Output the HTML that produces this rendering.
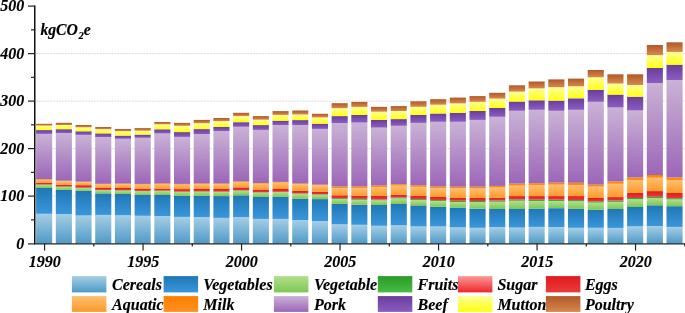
<!DOCTYPE html><html><head><meta charset="utf-8"><style>html,body{margin:0;padding:0;background:#fff;}svg{display:block;}text{font-family:"Liberation Serif",serif;font-weight:bold;font-style:italic;stroke:#000;stroke-width:0.15px;}</style></head><body>
<svg style="will-change:transform" width="685" height="313" viewBox="0 0 685 313">
<defs>
<linearGradient id="gcer" x1="0" y1="0" x2="0" y2="1"><stop offset="0" stop-color="#a6cee3"/><stop offset="1" stop-color="#4e9ac8"/></linearGradient>
<linearGradient id="gveg" x1="0" y1="0" x2="0" y2="1"><stop offset="0" stop-color="#1f78b4"/><stop offset="1" stop-color="#3a96dc"/></linearGradient>
<linearGradient id="gvo" x1="0" y1="0" x2="0" y2="1"><stop offset="0" stop-color="#b2df8a"/><stop offset="1" stop-color="#7cc855"/></linearGradient>
<linearGradient id="gfr" x1="0" y1="0" x2="0" y2="1"><stop offset="0" stop-color="#2c9a28"/><stop offset="1" stop-color="#46bd44"/></linearGradient>
<linearGradient id="gsu" x1="0" y1="0" x2="0" y2="1"><stop offset="0" stop-color="#fb9a99"/><stop offset="1" stop-color="#f0262a"/></linearGradient>
<linearGradient id="gegg" x1="0" y1="0" x2="0" y2="1"><stop offset="0" stop-color="#e31a1c"/><stop offset="1" stop-color="#ea3a3c"/></linearGradient>
<linearGradient id="gaq" x1="0" y1="0" x2="0" y2="1"><stop offset="0" stop-color="#fdbf6f"/><stop offset="1" stop-color="#fd9a2a"/></linearGradient>
<linearGradient id="gmilk" x1="0" y1="0" x2="0" y2="1"><stop offset="0" stop-color="#ff7f00"/><stop offset="1" stop-color="#ff9020"/></linearGradient>
<linearGradient id="gpork" x1="0" y1="0" x2="0" y2="1"><stop offset="0" stop-color="#cab2d6"/><stop offset="1" stop-color="#9c66b8"/></linearGradient>
<linearGradient id="gbeef" x1="0" y1="0" x2="0" y2="1"><stop offset="0" stop-color="#6a3d9a"/><stop offset="1" stop-color="#8c5dc2"/></linearGradient>
<linearGradient id="gmut" x1="0" y1="0" x2="0" y2="1"><stop offset="0" stop-color="#ffff99"/><stop offset="1" stop-color="#ffff10"/></linearGradient>
<linearGradient id="gpou" x1="0" y1="0" x2="0" y2="1"><stop offset="0" stop-color="#b15928"/><stop offset="1" stop-color="#d8864e"/></linearGradient>
</defs>
<rect width="685" height="313" fill="#fff"/>
<line x1="36" y1="196.10" x2="685" y2="196.10" stroke="#d4d4d4" stroke-width="0.9" stroke-dasharray="1.8,1.1"/>
<line x1="36" y1="148.60" x2="685" y2="148.60" stroke="#d4d4d4" stroke-width="0.9" stroke-dasharray="1.8,1.1"/>
<line x1="36" y1="101.10" x2="685" y2="101.10" stroke="#d4d4d4" stroke-width="0.9" stroke-dasharray="1.8,1.1"/>
<line x1="36" y1="53.60" x2="685" y2="53.60" stroke="#d4d4d4" stroke-width="0.9" stroke-dasharray="1.8,1.1"/>
<rect x="36.10" y="213.80" width="16.1" height="29.80" fill="url(#gcer)"/>
<rect x="36.10" y="188.00" width="16.1" height="25.80" fill="url(#gveg)"/>
<rect x="36.10" y="184.85" width="16.1" height="3.15" fill="url(#gvo)"/>
<rect x="36.10" y="184.40" width="16.1" height="0.45" fill="url(#gfr)"/>
<rect x="36.10" y="182.90" width="16.1" height="1.50" fill="url(#gegg)"/>
<rect x="36.10" y="179.80" width="16.1" height="3.10" fill="url(#gaq)"/>
<rect x="36.10" y="179.10" width="16.1" height="0.70" fill="url(#gmilk)"/>
<rect x="36.10" y="133.90" width="16.1" height="45.20" fill="url(#gpork)"/>
<rect x="36.10" y="130.10" width="16.1" height="3.80" fill="url(#gbeef)"/>
<rect x="36.10" y="125.60" width="16.1" height="4.50" fill="url(#gmut)"/>
<rect x="36.10" y="123.80" width="16.1" height="1.80" fill="url(#gpou)"/>
<rect x="55.80" y="214.00" width="16.1" height="29.60" fill="url(#gcer)"/>
<rect x="55.80" y="189.90" width="16.1" height="24.10" fill="url(#gveg)"/>
<rect x="55.80" y="186.95" width="16.1" height="2.95" fill="url(#gvo)"/>
<rect x="55.80" y="186.50" width="16.1" height="0.45" fill="url(#gfr)"/>
<rect x="55.80" y="184.80" width="16.1" height="1.70" fill="url(#gegg)"/>
<rect x="55.80" y="181.40" width="16.1" height="3.40" fill="url(#gaq)"/>
<rect x="55.80" y="180.70" width="16.1" height="0.70" fill="url(#gmilk)"/>
<rect x="55.80" y="133.00" width="16.1" height="47.70" fill="url(#gpork)"/>
<rect x="55.80" y="129.20" width="16.1" height="3.80" fill="url(#gbeef)"/>
<rect x="55.80" y="125.00" width="16.1" height="4.20" fill="url(#gmut)"/>
<rect x="55.80" y="122.80" width="16.1" height="2.20" fill="url(#gpou)"/>
<rect x="75.50" y="215.50" width="16.1" height="28.10" fill="url(#gcer)"/>
<rect x="75.50" y="190.90" width="16.1" height="24.60" fill="url(#gveg)"/>
<rect x="75.50" y="188.15" width="16.1" height="2.75" fill="url(#gvo)"/>
<rect x="75.50" y="187.70" width="16.1" height="0.45" fill="url(#gfr)"/>
<rect x="75.50" y="185.20" width="16.1" height="2.50" fill="url(#gegg)"/>
<rect x="75.50" y="182.30" width="16.1" height="2.90" fill="url(#gaq)"/>
<rect x="75.50" y="181.60" width="16.1" height="0.70" fill="url(#gmilk)"/>
<rect x="75.50" y="134.90" width="16.1" height="46.70" fill="url(#gpork)"/>
<rect x="75.50" y="131.30" width="16.1" height="3.60" fill="url(#gbeef)"/>
<rect x="75.50" y="127.30" width="16.1" height="4.00" fill="url(#gmut)"/>
<rect x="75.50" y="125.00" width="16.1" height="2.30" fill="url(#gpou)"/>
<rect x="95.20" y="214.90" width="16.1" height="28.70" fill="url(#gcer)"/>
<rect x="95.20" y="193.40" width="16.1" height="21.50" fill="url(#gveg)"/>
<rect x="95.20" y="190.35" width="16.1" height="3.05" fill="url(#gvo)"/>
<rect x="95.20" y="189.90" width="16.1" height="0.45" fill="url(#gfr)"/>
<rect x="95.20" y="188.00" width="16.1" height="1.90" fill="url(#gegg)"/>
<rect x="95.20" y="184.50" width="16.1" height="3.50" fill="url(#gaq)"/>
<rect x="95.20" y="183.80" width="16.1" height="0.70" fill="url(#gmilk)"/>
<rect x="95.20" y="137.10" width="16.1" height="46.70" fill="url(#gpork)"/>
<rect x="95.20" y="133.40" width="16.1" height="3.70" fill="url(#gbeef)"/>
<rect x="95.20" y="129.20" width="16.1" height="4.20" fill="url(#gmut)"/>
<rect x="95.20" y="127.00" width="16.1" height="2.20" fill="url(#gpou)"/>
<rect x="114.90" y="215.30" width="16.1" height="28.30" fill="url(#gcer)"/>
<rect x="114.90" y="194.00" width="16.1" height="21.30" fill="url(#gveg)"/>
<rect x="114.90" y="190.65" width="16.1" height="3.35" fill="url(#gvo)"/>
<rect x="114.90" y="190.20" width="16.1" height="0.45" fill="url(#gfr)"/>
<rect x="114.90" y="188.00" width="16.1" height="2.20" fill="url(#gegg)"/>
<rect x="114.90" y="184.20" width="16.1" height="3.80" fill="url(#gaq)"/>
<rect x="114.90" y="183.50" width="16.1" height="0.70" fill="url(#gmilk)"/>
<rect x="114.90" y="138.80" width="16.1" height="44.70" fill="url(#gpork)"/>
<rect x="114.90" y="135.60" width="16.1" height="3.20" fill="url(#gbeef)"/>
<rect x="114.90" y="131.20" width="16.1" height="4.40" fill="url(#gmut)"/>
<rect x="114.90" y="129.00" width="16.1" height="2.20" fill="url(#gpou)"/>
<rect x="134.60" y="215.80" width="16.1" height="27.80" fill="url(#gcer)"/>
<rect x="134.60" y="195.00" width="16.1" height="20.80" fill="url(#gveg)"/>
<rect x="134.60" y="191.35" width="16.1" height="3.65" fill="url(#gvo)"/>
<rect x="134.60" y="190.90" width="16.1" height="0.45" fill="url(#gfr)"/>
<rect x="134.60" y="188.90" width="16.1" height="2.00" fill="url(#gegg)"/>
<rect x="134.60" y="184.60" width="16.1" height="4.30" fill="url(#gaq)"/>
<rect x="134.60" y="183.90" width="16.1" height="0.70" fill="url(#gmilk)"/>
<rect x="134.60" y="137.80" width="16.1" height="46.10" fill="url(#gpork)"/>
<rect x="134.60" y="134.60" width="16.1" height="3.20" fill="url(#gbeef)"/>
<rect x="134.60" y="130.70" width="16.1" height="3.90" fill="url(#gmut)"/>
<rect x="134.60" y="128.10" width="16.1" height="2.60" fill="url(#gpou)"/>
<rect x="154.30" y="216.00" width="16.1" height="27.60" fill="url(#gcer)"/>
<rect x="154.30" y="195.00" width="16.1" height="21.00" fill="url(#gveg)"/>
<rect x="154.30" y="191.05" width="16.1" height="3.95" fill="url(#gvo)"/>
<rect x="154.30" y="190.60" width="16.1" height="0.45" fill="url(#gfr)"/>
<rect x="154.30" y="188.60" width="16.1" height="2.00" fill="url(#gegg)"/>
<rect x="154.30" y="184.00" width="16.1" height="4.60" fill="url(#gaq)"/>
<rect x="154.30" y="183.30" width="16.1" height="0.70" fill="url(#gmilk)"/>
<rect x="154.30" y="133.50" width="16.1" height="49.80" fill="url(#gpork)"/>
<rect x="154.30" y="129.30" width="16.1" height="4.20" fill="url(#gbeef)"/>
<rect x="154.30" y="124.30" width="16.1" height="5.00" fill="url(#gmut)"/>
<rect x="154.30" y="122.00" width="16.1" height="2.30" fill="url(#gpou)"/>
<rect x="174.00" y="216.90" width="16.1" height="26.70" fill="url(#gcer)"/>
<rect x="174.00" y="195.90" width="16.1" height="21.00" fill="url(#gveg)"/>
<rect x="174.00" y="191.95" width="16.1" height="3.95" fill="url(#gvo)"/>
<rect x="174.00" y="191.50" width="16.1" height="0.45" fill="url(#gfr)"/>
<rect x="174.00" y="189.10" width="16.1" height="2.40" fill="url(#gegg)"/>
<rect x="174.00" y="184.60" width="16.1" height="4.50" fill="url(#gaq)"/>
<rect x="174.00" y="183.90" width="16.1" height="0.70" fill="url(#gmilk)"/>
<rect x="174.00" y="136.90" width="16.1" height="47.00" fill="url(#gpork)"/>
<rect x="174.00" y="132.10" width="16.1" height="4.80" fill="url(#gbeef)"/>
<rect x="174.00" y="125.80" width="16.1" height="6.30" fill="url(#gmut)"/>
<rect x="174.00" y="122.90" width="16.1" height="2.90" fill="url(#gpou)"/>
<rect x="193.70" y="217.10" width="16.1" height="26.50" fill="url(#gcer)"/>
<rect x="193.70" y="195.70" width="16.1" height="21.40" fill="url(#gveg)"/>
<rect x="193.70" y="191.75" width="16.1" height="3.95" fill="url(#gvo)"/>
<rect x="193.70" y="191.30" width="16.1" height="0.45" fill="url(#gfr)"/>
<rect x="193.70" y="189.00" width="16.1" height="2.30" fill="url(#gegg)"/>
<rect x="193.70" y="184.10" width="16.1" height="4.90" fill="url(#gaq)"/>
<rect x="193.70" y="183.40" width="16.1" height="0.70" fill="url(#gmilk)"/>
<rect x="193.70" y="134.10" width="16.1" height="49.30" fill="url(#gpork)"/>
<rect x="193.70" y="129.10" width="16.1" height="5.00" fill="url(#gbeef)"/>
<rect x="193.70" y="123.20" width="16.1" height="5.90" fill="url(#gmut)"/>
<rect x="193.70" y="119.90" width="16.1" height="3.30" fill="url(#gpou)"/>
<rect x="213.40" y="217.90" width="16.1" height="25.70" fill="url(#gcer)"/>
<rect x="213.40" y="196.10" width="16.1" height="21.80" fill="url(#gveg)"/>
<rect x="213.40" y="191.95" width="16.1" height="4.15" fill="url(#gvo)"/>
<rect x="213.40" y="191.50" width="16.1" height="0.45" fill="url(#gfr)"/>
<rect x="213.40" y="189.00" width="16.1" height="2.50" fill="url(#gegg)"/>
<rect x="213.40" y="184.10" width="16.1" height="4.90" fill="url(#gaq)"/>
<rect x="213.40" y="183.40" width="16.1" height="0.70" fill="url(#gmilk)"/>
<rect x="213.40" y="131.10" width="16.1" height="52.30" fill="url(#gpork)"/>
<rect x="213.40" y="127.00" width="16.1" height="4.10" fill="url(#gbeef)"/>
<rect x="213.40" y="121.10" width="16.1" height="5.90" fill="url(#gmut)"/>
<rect x="213.40" y="118.00" width="16.1" height="3.10" fill="url(#gpou)"/>
<rect x="233.10" y="217.10" width="16.1" height="26.50" fill="url(#gcer)"/>
<rect x="233.10" y="195.30" width="16.1" height="21.80" fill="url(#gveg)"/>
<rect x="233.10" y="190.75" width="16.1" height="4.55" fill="url(#gvo)"/>
<rect x="233.10" y="190.30" width="16.1" height="0.45" fill="url(#gfr)"/>
<rect x="233.10" y="187.40" width="16.1" height="2.90" fill="url(#gegg)"/>
<rect x="233.10" y="182.00" width="16.1" height="5.40" fill="url(#gaq)"/>
<rect x="233.10" y="181.30" width="16.1" height="0.70" fill="url(#gmilk)"/>
<rect x="233.10" y="126.80" width="16.1" height="54.50" fill="url(#gpork)"/>
<rect x="233.10" y="122.20" width="16.1" height="4.60" fill="url(#gbeef)"/>
<rect x="233.10" y="116.10" width="16.1" height="6.10" fill="url(#gmut)"/>
<rect x="233.10" y="112.80" width="16.1" height="3.30" fill="url(#gpou)"/>
<rect x="252.80" y="218.90" width="16.1" height="24.70" fill="url(#gcer)"/>
<rect x="252.80" y="197.00" width="16.1" height="21.90" fill="url(#gveg)"/>
<rect x="252.80" y="192.65" width="16.1" height="4.35" fill="url(#gvo)"/>
<rect x="252.80" y="192.20" width="16.1" height="0.45" fill="url(#gfr)"/>
<rect x="252.80" y="189.50" width="16.1" height="2.70" fill="url(#gegg)"/>
<rect x="252.80" y="183.70" width="16.1" height="5.80" fill="url(#gaq)"/>
<rect x="252.80" y="183.00" width="16.1" height="0.70" fill="url(#gmilk)"/>
<rect x="252.80" y="129.90" width="16.1" height="53.10" fill="url(#gpork)"/>
<rect x="252.80" y="125.10" width="16.1" height="4.80" fill="url(#gbeef)"/>
<rect x="252.80" y="119.70" width="16.1" height="5.40" fill="url(#gmut)"/>
<rect x="252.80" y="116.10" width="16.1" height="3.60" fill="url(#gpou)"/>
<rect x="272.50" y="218.90" width="16.1" height="24.70" fill="url(#gcer)"/>
<rect x="272.50" y="196.80" width="16.1" height="22.10" fill="url(#gveg)"/>
<rect x="272.50" y="192.25" width="16.1" height="4.55" fill="url(#gvo)"/>
<rect x="272.50" y="191.80" width="16.1" height="0.45" fill="url(#gfr)"/>
<rect x="272.50" y="189.00" width="16.1" height="2.80" fill="url(#gegg)"/>
<rect x="272.50" y="182.60" width="16.1" height="6.40" fill="url(#gaq)"/>
<rect x="272.50" y="181.90" width="16.1" height="0.70" fill="url(#gmilk)"/>
<rect x="272.50" y="125.10" width="16.1" height="56.80" fill="url(#gpork)"/>
<rect x="272.50" y="120.70" width="16.1" height="4.40" fill="url(#gbeef)"/>
<rect x="272.50" y="114.90" width="16.1" height="5.80" fill="url(#gmut)"/>
<rect x="272.50" y="111.10" width="16.1" height="3.80" fill="url(#gpou)"/>
<rect x="292.20" y="220.00" width="16.1" height="23.60" fill="url(#gcer)"/>
<rect x="292.20" y="198.90" width="16.1" height="21.10" fill="url(#gveg)"/>
<rect x="292.20" y="193.85" width="16.1" height="5.05" fill="url(#gvo)"/>
<rect x="292.20" y="193.40" width="16.1" height="0.45" fill="url(#gfr)"/>
<rect x="292.20" y="190.90" width="16.1" height="2.50" fill="url(#gegg)"/>
<rect x="292.20" y="184.10" width="16.1" height="6.80" fill="url(#gaq)"/>
<rect x="292.20" y="183.40" width="16.1" height="0.70" fill="url(#gmilk)"/>
<rect x="292.20" y="125.10" width="16.1" height="58.30" fill="url(#gpork)"/>
<rect x="292.20" y="120.10" width="16.1" height="5.00" fill="url(#gbeef)"/>
<rect x="292.20" y="114.50" width="16.1" height="5.60" fill="url(#gmut)"/>
<rect x="292.20" y="110.50" width="16.1" height="4.00" fill="url(#gpou)"/>
<rect x="311.90" y="221.00" width="16.1" height="22.60" fill="url(#gcer)"/>
<rect x="311.90" y="199.10" width="16.1" height="21.90" fill="url(#gveg)"/>
<rect x="311.90" y="194.75" width="16.1" height="4.35" fill="url(#gvo)"/>
<rect x="311.90" y="194.30" width="16.1" height="0.45" fill="url(#gfr)"/>
<rect x="311.90" y="191.80" width="16.1" height="2.50" fill="url(#gegg)"/>
<rect x="311.90" y="185.30" width="16.1" height="6.50" fill="url(#gaq)"/>
<rect x="311.90" y="184.60" width="16.1" height="0.70" fill="url(#gmilk)"/>
<rect x="311.90" y="128.90" width="16.1" height="55.70" fill="url(#gpork)"/>
<rect x="311.90" y="123.70" width="16.1" height="5.20" fill="url(#gbeef)"/>
<rect x="311.90" y="117.40" width="16.1" height="6.30" fill="url(#gmut)"/>
<rect x="311.90" y="113.80" width="16.1" height="3.60" fill="url(#gpou)"/>
<rect x="331.60" y="224.40" width="16.1" height="19.20" fill="url(#gcer)"/>
<rect x="331.60" y="203.90" width="16.1" height="20.50" fill="url(#gveg)"/>
<rect x="331.60" y="199.10" width="16.1" height="4.80" fill="url(#gvo)"/>
<rect x="331.60" y="198.20" width="16.1" height="0.90" fill="url(#gfr)"/>
<rect x="331.60" y="195.30" width="16.1" height="2.90" fill="url(#gegg)"/>
<rect x="331.60" y="188.00" width="16.1" height="7.30" fill="url(#gaq)"/>
<rect x="331.60" y="186.50" width="16.1" height="1.50" fill="url(#gmilk)"/>
<rect x="331.60" y="123.00" width="16.1" height="63.50" fill="url(#gpork)"/>
<rect x="331.60" y="116.10" width="16.1" height="6.90" fill="url(#gbeef)"/>
<rect x="331.60" y="108.20" width="16.1" height="7.90" fill="url(#gmut)"/>
<rect x="331.60" y="103.20" width="16.1" height="5.00" fill="url(#gpou)"/>
<rect x="351.30" y="224.80" width="16.1" height="18.80" fill="url(#gcer)"/>
<rect x="351.30" y="204.70" width="16.1" height="20.10" fill="url(#gveg)"/>
<rect x="351.30" y="199.80" width="16.1" height="4.90" fill="url(#gvo)"/>
<rect x="351.30" y="198.90" width="16.1" height="0.90" fill="url(#gfr)"/>
<rect x="351.30" y="195.70" width="16.1" height="3.20" fill="url(#gegg)"/>
<rect x="351.30" y="188.00" width="16.1" height="7.70" fill="url(#gaq)"/>
<rect x="351.30" y="186.50" width="16.1" height="1.50" fill="url(#gmilk)"/>
<rect x="351.30" y="122.60" width="16.1" height="63.90" fill="url(#gpork)"/>
<rect x="351.30" y="114.90" width="16.1" height="7.70" fill="url(#gbeef)"/>
<rect x="351.30" y="106.90" width="16.1" height="8.00" fill="url(#gmut)"/>
<rect x="351.30" y="101.90" width="16.1" height="5.00" fill="url(#gpou)"/>
<rect x="371.00" y="225.80" width="16.1" height="17.80" fill="url(#gcer)"/>
<rect x="371.00" y="205.00" width="16.1" height="20.80" fill="url(#gveg)"/>
<rect x="371.00" y="200.40" width="16.1" height="4.60" fill="url(#gvo)"/>
<rect x="371.00" y="199.50" width="16.1" height="0.90" fill="url(#gfr)"/>
<rect x="371.00" y="195.70" width="16.1" height="3.80" fill="url(#gegg)"/>
<rect x="371.00" y="187.00" width="16.1" height="8.70" fill="url(#gaq)"/>
<rect x="371.00" y="185.50" width="16.1" height="1.50" fill="url(#gmilk)"/>
<rect x="371.00" y="127.60" width="16.1" height="57.90" fill="url(#gpork)"/>
<rect x="371.00" y="119.90" width="16.1" height="7.70" fill="url(#gbeef)"/>
<rect x="371.00" y="111.70" width="16.1" height="8.20" fill="url(#gmut)"/>
<rect x="371.00" y="106.90" width="16.1" height="4.80" fill="url(#gpou)"/>
<rect x="390.70" y="225.30" width="16.1" height="18.30" fill="url(#gcer)"/>
<rect x="390.70" y="204.00" width="16.1" height="21.30" fill="url(#gveg)"/>
<rect x="390.70" y="198.50" width="16.1" height="5.50" fill="url(#gvo)"/>
<rect x="390.70" y="197.60" width="16.1" height="0.90" fill="url(#gfr)"/>
<rect x="390.70" y="194.70" width="16.1" height="2.90" fill="url(#gegg)"/>
<rect x="390.70" y="185.70" width="16.1" height="9.00" fill="url(#gaq)"/>
<rect x="390.70" y="184.20" width="16.1" height="1.50" fill="url(#gmilk)"/>
<rect x="390.70" y="125.80" width="16.1" height="58.40" fill="url(#gpork)"/>
<rect x="390.70" y="119.10" width="16.1" height="6.70" fill="url(#gbeef)"/>
<rect x="390.70" y="111.00" width="16.1" height="8.10" fill="url(#gmut)"/>
<rect x="390.70" y="106.10" width="16.1" height="4.90" fill="url(#gpou)"/>
<rect x="410.40" y="226.50" width="16.1" height="17.10" fill="url(#gcer)"/>
<rect x="410.40" y="205.40" width="16.1" height="21.10" fill="url(#gveg)"/>
<rect x="410.40" y="200.00" width="16.1" height="5.40" fill="url(#gvo)"/>
<rect x="410.40" y="199.10" width="16.1" height="0.90" fill="url(#gfr)"/>
<rect x="410.40" y="195.70" width="16.1" height="3.40" fill="url(#gegg)"/>
<rect x="410.40" y="186.90" width="16.1" height="8.80" fill="url(#gaq)"/>
<rect x="410.40" y="185.30" width="16.1" height="1.60" fill="url(#gmilk)"/>
<rect x="410.40" y="122.90" width="16.1" height="62.40" fill="url(#gpork)"/>
<rect x="410.40" y="114.90" width="16.1" height="8.00" fill="url(#gbeef)"/>
<rect x="410.40" y="106.80" width="16.1" height="8.10" fill="url(#gmut)"/>
<rect x="410.40" y="101.30" width="16.1" height="5.50" fill="url(#gpou)"/>
<rect x="430.10" y="226.50" width="16.1" height="17.10" fill="url(#gcer)"/>
<rect x="430.10" y="206.80" width="16.1" height="19.70" fill="url(#gveg)"/>
<rect x="430.10" y="201.00" width="16.1" height="5.80" fill="url(#gvo)"/>
<rect x="430.10" y="200.10" width="16.1" height="0.90" fill="url(#gfr)"/>
<rect x="430.10" y="197.00" width="16.1" height="3.10" fill="url(#gegg)"/>
<rect x="430.10" y="188.00" width="16.1" height="9.00" fill="url(#gaq)"/>
<rect x="430.10" y="186.50" width="16.1" height="1.50" fill="url(#gmilk)"/>
<rect x="430.10" y="121.80" width="16.1" height="64.70" fill="url(#gpork)"/>
<rect x="430.10" y="113.50" width="16.1" height="8.30" fill="url(#gbeef)"/>
<rect x="430.10" y="104.70" width="16.1" height="8.80" fill="url(#gmut)"/>
<rect x="430.10" y="99.20" width="16.1" height="5.50" fill="url(#gpou)"/>
<rect x="449.80" y="227.40" width="16.1" height="16.20" fill="url(#gcer)"/>
<rect x="449.80" y="207.60" width="16.1" height="19.80" fill="url(#gveg)"/>
<rect x="449.80" y="202.10" width="16.1" height="5.50" fill="url(#gvo)"/>
<rect x="449.80" y="200.80" width="16.1" height="1.30" fill="url(#gfr)"/>
<rect x="449.80" y="198.00" width="16.1" height="2.80" fill="url(#gegg)"/>
<rect x="449.80" y="188.40" width="16.1" height="9.60" fill="url(#gaq)"/>
<rect x="449.80" y="186.70" width="16.1" height="1.70" fill="url(#gmilk)"/>
<rect x="449.80" y="121.80" width="16.1" height="64.90" fill="url(#gpork)"/>
<rect x="449.80" y="112.80" width="16.1" height="9.00" fill="url(#gbeef)"/>
<rect x="449.80" y="103.40" width="16.1" height="9.40" fill="url(#gmut)"/>
<rect x="449.80" y="97.60" width="16.1" height="5.80" fill="url(#gpou)"/>
<rect x="469.50" y="227.80" width="16.1" height="15.80" fill="url(#gcer)"/>
<rect x="469.50" y="208.70" width="16.1" height="19.10" fill="url(#gveg)"/>
<rect x="469.50" y="202.30" width="16.1" height="6.40" fill="url(#gvo)"/>
<rect x="469.50" y="201.00" width="16.1" height="1.30" fill="url(#gfr)"/>
<rect x="469.50" y="198.00" width="16.1" height="3.00" fill="url(#gegg)"/>
<rect x="469.50" y="188.60" width="16.1" height="9.40" fill="url(#gaq)"/>
<rect x="469.50" y="186.70" width="16.1" height="1.90" fill="url(#gmilk)"/>
<rect x="469.50" y="119.90" width="16.1" height="66.80" fill="url(#gpork)"/>
<rect x="469.50" y="111.00" width="16.1" height="8.90" fill="url(#gbeef)"/>
<rect x="469.50" y="101.80" width="16.1" height="9.20" fill="url(#gmut)"/>
<rect x="469.50" y="96.10" width="16.1" height="5.70" fill="url(#gpou)"/>
<rect x="489.20" y="227.10" width="16.1" height="16.50" fill="url(#gcer)"/>
<rect x="489.20" y="209.00" width="16.1" height="18.10" fill="url(#gveg)"/>
<rect x="489.20" y="201.80" width="16.1" height="7.20" fill="url(#gvo)"/>
<rect x="489.20" y="200.50" width="16.1" height="1.30" fill="url(#gfr)"/>
<rect x="489.20" y="197.60" width="16.1" height="2.90" fill="url(#gegg)"/>
<rect x="489.20" y="187.60" width="16.1" height="10.00" fill="url(#gaq)"/>
<rect x="489.20" y="185.90" width="16.1" height="1.70" fill="url(#gmilk)"/>
<rect x="489.20" y="116.80" width="16.1" height="69.10" fill="url(#gpork)"/>
<rect x="489.20" y="108.00" width="16.1" height="8.80" fill="url(#gbeef)"/>
<rect x="489.20" y="98.60" width="16.1" height="9.40" fill="url(#gmut)"/>
<rect x="489.20" y="92.80" width="16.1" height="5.80" fill="url(#gpou)"/>
<rect x="508.90" y="227.60" width="16.1" height="16.00" fill="url(#gcer)"/>
<rect x="508.90" y="209.00" width="16.1" height="18.60" fill="url(#gveg)"/>
<rect x="508.90" y="200.80" width="16.1" height="8.20" fill="url(#gvo)"/>
<rect x="508.90" y="199.50" width="16.1" height="1.30" fill="url(#gfr)"/>
<rect x="508.90" y="196.10" width="16.1" height="3.40" fill="url(#gegg)"/>
<rect x="508.90" y="185.70" width="16.1" height="10.40" fill="url(#gaq)"/>
<rect x="508.90" y="183.60" width="16.1" height="2.10" fill="url(#gmilk)"/>
<rect x="508.90" y="110.80" width="16.1" height="72.80" fill="url(#gpork)"/>
<rect x="508.90" y="101.60" width="16.1" height="9.20" fill="url(#gbeef)"/>
<rect x="508.90" y="91.60" width="16.1" height="10.00" fill="url(#gmut)"/>
<rect x="508.90" y="85.30" width="16.1" height="6.30" fill="url(#gpou)"/>
<rect x="528.60" y="226.90" width="16.1" height="16.70" fill="url(#gcer)"/>
<rect x="528.60" y="208.60" width="16.1" height="18.30" fill="url(#gveg)"/>
<rect x="528.60" y="201.00" width="16.1" height="7.60" fill="url(#gvo)"/>
<rect x="528.60" y="199.70" width="16.1" height="1.30" fill="url(#gfr)"/>
<rect x="528.60" y="196.10" width="16.1" height="3.60" fill="url(#gegg)"/>
<rect x="528.60" y="185.30" width="16.1" height="10.80" fill="url(#gaq)"/>
<rect x="528.60" y="183.20" width="16.1" height="2.10" fill="url(#gmilk)"/>
<rect x="528.60" y="109.80" width="16.1" height="73.40" fill="url(#gpork)"/>
<rect x="528.60" y="100.30" width="16.1" height="9.50" fill="url(#gbeef)"/>
<rect x="528.60" y="88.40" width="16.1" height="11.90" fill="url(#gmut)"/>
<rect x="528.60" y="81.50" width="16.1" height="6.90" fill="url(#gpou)"/>
<rect x="548.30" y="227.10" width="16.1" height="16.50" fill="url(#gcer)"/>
<rect x="548.30" y="208.20" width="16.1" height="18.90" fill="url(#gveg)"/>
<rect x="548.30" y="201.00" width="16.1" height="7.20" fill="url(#gvo)"/>
<rect x="548.30" y="199.70" width="16.1" height="1.30" fill="url(#gfr)"/>
<rect x="548.30" y="196.10" width="16.1" height="3.60" fill="url(#gegg)"/>
<rect x="548.30" y="184.70" width="16.1" height="11.40" fill="url(#gaq)"/>
<rect x="548.30" y="182.60" width="16.1" height="2.10" fill="url(#gmilk)"/>
<rect x="548.30" y="110.80" width="16.1" height="71.80" fill="url(#gpork)"/>
<rect x="548.30" y="100.60" width="16.1" height="10.20" fill="url(#gbeef)"/>
<rect x="548.30" y="87.20" width="16.1" height="13.40" fill="url(#gmut)"/>
<rect x="548.30" y="79.40" width="16.1" height="7.80" fill="url(#gpou)"/>
<rect x="568.00" y="227.80" width="16.1" height="15.80" fill="url(#gcer)"/>
<rect x="568.00" y="208.90" width="16.1" height="18.90" fill="url(#gveg)"/>
<rect x="568.00" y="201.40" width="16.1" height="7.50" fill="url(#gvo)"/>
<rect x="568.00" y="200.10" width="16.1" height="1.30" fill="url(#gfr)"/>
<rect x="568.00" y="196.10" width="16.1" height="4.00" fill="url(#gegg)"/>
<rect x="568.00" y="185.30" width="16.1" height="10.80" fill="url(#gaq)"/>
<rect x="568.00" y="182.80" width="16.1" height="2.50" fill="url(#gmilk)"/>
<rect x="568.00" y="109.80" width="16.1" height="73.00" fill="url(#gpork)"/>
<rect x="568.00" y="98.30" width="16.1" height="11.50" fill="url(#gbeef)"/>
<rect x="568.00" y="86.30" width="16.1" height="12.00" fill="url(#gmut)"/>
<rect x="568.00" y="78.60" width="16.1" height="7.70" fill="url(#gpou)"/>
<rect x="587.70" y="227.80" width="16.1" height="15.80" fill="url(#gcer)"/>
<rect x="587.70" y="209.80" width="16.1" height="18.00" fill="url(#gveg)"/>
<rect x="587.70" y="202.70" width="16.1" height="7.10" fill="url(#gvo)"/>
<rect x="587.70" y="201.40" width="16.1" height="1.30" fill="url(#gfr)"/>
<rect x="587.70" y="198.00" width="16.1" height="3.40" fill="url(#gegg)"/>
<rect x="587.70" y="186.70" width="16.1" height="11.30" fill="url(#gaq)"/>
<rect x="587.70" y="184.60" width="16.1" height="2.10" fill="url(#gmilk)"/>
<rect x="587.70" y="101.80" width="16.1" height="82.80" fill="url(#gpork)"/>
<rect x="587.70" y="89.80" width="16.1" height="12.00" fill="url(#gbeef)"/>
<rect x="587.70" y="77.30" width="16.1" height="12.50" fill="url(#gmut)"/>
<rect x="587.70" y="70.00" width="16.1" height="7.30" fill="url(#gpou)"/>
<rect x="607.40" y="227.90" width="16.1" height="15.70" fill="url(#gcer)"/>
<rect x="607.40" y="209.00" width="16.1" height="18.90" fill="url(#gveg)"/>
<rect x="607.40" y="201.90" width="16.1" height="7.10" fill="url(#gvo)"/>
<rect x="607.40" y="200.60" width="16.1" height="1.30" fill="url(#gfr)"/>
<rect x="607.40" y="197.10" width="16.1" height="3.50" fill="url(#gegg)"/>
<rect x="607.40" y="183.80" width="16.1" height="13.30" fill="url(#gaq)"/>
<rect x="607.40" y="181.40" width="16.1" height="2.40" fill="url(#gmilk)"/>
<rect x="607.40" y="107.50" width="16.1" height="73.90" fill="url(#gpork)"/>
<rect x="607.40" y="94.60" width="16.1" height="12.90" fill="url(#gbeef)"/>
<rect x="607.40" y="83.50" width="16.1" height="11.10" fill="url(#gmut)"/>
<rect x="607.40" y="74.30" width="16.1" height="9.20" fill="url(#gpou)"/>
<rect x="627.10" y="226.40" width="16.1" height="17.20" fill="url(#gcer)"/>
<rect x="627.10" y="207.00" width="16.1" height="19.40" fill="url(#gveg)"/>
<rect x="627.10" y="199.30" width="16.1" height="7.70" fill="url(#gvo)"/>
<rect x="627.10" y="198.00" width="16.1" height="1.30" fill="url(#gfr)"/>
<rect x="627.10" y="192.90" width="16.1" height="5.10" fill="url(#gegg)"/>
<rect x="627.10" y="180.00" width="16.1" height="12.90" fill="url(#gaq)"/>
<rect x="627.10" y="177.40" width="16.1" height="2.60" fill="url(#gmilk)"/>
<rect x="627.10" y="110.50" width="16.1" height="66.90" fill="url(#gpork)"/>
<rect x="627.10" y="96.70" width="16.1" height="13.80" fill="url(#gbeef)"/>
<rect x="627.10" y="85.00" width="16.1" height="11.70" fill="url(#gmut)"/>
<rect x="627.10" y="74.30" width="16.1" height="10.70" fill="url(#gpou)"/>
<rect x="646.80" y="226.00" width="16.1" height="17.60" fill="url(#gcer)"/>
<rect x="646.80" y="205.30" width="16.1" height="20.70" fill="url(#gveg)"/>
<rect x="646.80" y="198.10" width="16.1" height="7.20" fill="url(#gvo)"/>
<rect x="646.80" y="196.80" width="16.1" height="1.30" fill="url(#gfr)"/>
<rect x="646.80" y="191.10" width="16.1" height="5.70" fill="url(#gegg)"/>
<rect x="646.80" y="177.80" width="16.1" height="13.30" fill="url(#gaq)"/>
<rect x="646.80" y="175.00" width="16.1" height="2.80" fill="url(#gmilk)"/>
<rect x="646.80" y="83.10" width="16.1" height="91.90" fill="url(#gpork)"/>
<rect x="646.80" y="68.00" width="16.1" height="15.10" fill="url(#gbeef)"/>
<rect x="646.80" y="55.10" width="16.1" height="12.90" fill="url(#gmut)"/>
<rect x="646.80" y="45.00" width="16.1" height="10.10" fill="url(#gpou)"/>
<rect x="666.50" y="226.90" width="16.1" height="16.70" fill="url(#gcer)"/>
<rect x="666.50" y="206.20" width="16.1" height="20.70" fill="url(#gveg)"/>
<rect x="666.50" y="199.50" width="16.1" height="6.70" fill="url(#gvo)"/>
<rect x="666.50" y="198.20" width="16.1" height="1.30" fill="url(#gfr)"/>
<rect x="666.50" y="193.00" width="16.1" height="5.20" fill="url(#gegg)"/>
<rect x="666.50" y="180.00" width="16.1" height="13.00" fill="url(#gaq)"/>
<rect x="666.50" y="177.40" width="16.1" height="2.60" fill="url(#gmilk)"/>
<rect x="666.50" y="80.00" width="16.1" height="97.40" fill="url(#gpork)"/>
<rect x="666.50" y="64.70" width="16.1" height="15.30" fill="url(#gbeef)"/>
<rect x="666.50" y="51.90" width="16.1" height="12.80" fill="url(#gmut)"/>
<rect x="666.50" y="42.30" width="16.1" height="9.60" fill="url(#gpou)"/>
<g stroke="#222" fill="none">
<line x1="34.75" y1="5.4" x2="34.75" y2="244.10" stroke-width="1.5" stroke="#111"/>
<line x1="34" y1="243.90" x2="685" y2="243.90" stroke-width="1.2"/>
<line x1="28" y1="243.90" x2="35" y2="243.90" stroke-width="1.2"/>
<line x1="31" y1="219.85" x2="35" y2="219.85" stroke-width="1.2"/>
<line x1="28" y1="196.10" x2="35" y2="196.10" stroke-width="1.2"/>
<line x1="31" y1="172.35" x2="35" y2="172.35" stroke-width="1.2"/>
<line x1="28" y1="148.60" x2="35" y2="148.60" stroke-width="1.2"/>
<line x1="31" y1="124.85" x2="35" y2="124.85" stroke-width="1.2"/>
<line x1="28" y1="101.10" x2="35" y2="101.10" stroke-width="1.2"/>
<line x1="31" y1="77.35" x2="35" y2="77.35" stroke-width="1.2"/>
<line x1="28" y1="53.60" x2="35" y2="53.60" stroke-width="1.2"/>
<line x1="31" y1="29.85" x2="35" y2="29.85" stroke-width="1.2"/>
<line x1="28" y1="6.10" x2="35" y2="6.10" stroke-width="1.2"/>
<line x1="44.55" y1="243.60" x2="44.55" y2="250.60" stroke-width="1.2"/>
<line x1="93.80" y1="243.60" x2="93.80" y2="246.60" stroke-width="1.2"/>
<line x1="143.05" y1="243.60" x2="143.05" y2="250.60" stroke-width="1.2"/>
<line x1="192.30" y1="243.60" x2="192.30" y2="246.60" stroke-width="1.2"/>
<line x1="241.55" y1="243.60" x2="241.55" y2="250.60" stroke-width="1.2"/>
<line x1="290.80" y1="243.60" x2="290.80" y2="246.60" stroke-width="1.2"/>
<line x1="340.05" y1="243.60" x2="340.05" y2="250.60" stroke-width="1.2"/>
<line x1="389.30" y1="243.60" x2="389.30" y2="246.60" stroke-width="1.2"/>
<line x1="438.55" y1="243.60" x2="438.55" y2="250.60" stroke-width="1.2"/>
<line x1="487.80" y1="243.60" x2="487.80" y2="246.60" stroke-width="1.2"/>
<line x1="537.05" y1="243.60" x2="537.05" y2="250.60" stroke-width="1.2"/>
<line x1="586.30" y1="243.60" x2="586.30" y2="246.60" stroke-width="1.2"/>
<line x1="635.55" y1="243.60" x2="635.55" y2="250.60" stroke-width="1.2"/>
<line x1="684.80" y1="243.60" x2="684.80" y2="246.60" stroke-width="1.2"/>
</g>
<text x="24.3" y="248.50" font-size="16" text-anchor="end">0</text>
<text x="24.3" y="201.00" font-size="16" text-anchor="end">100</text>
<text x="24.3" y="153.50" font-size="16" text-anchor="end">200</text>
<text x="24.3" y="106.00" font-size="16" text-anchor="end">300</text>
<text x="24.3" y="58.50" font-size="16" text-anchor="end">400</text>
<text x="24.3" y="10.70" font-size="16" text-anchor="end">500</text>
<text x="44.65" y="267" font-size="16" text-anchor="middle">1990</text>
<text x="143.15" y="267" font-size="16" text-anchor="middle">1995</text>
<text x="241.65" y="267" font-size="16" text-anchor="middle">2000</text>
<text x="340.15" y="267" font-size="16" text-anchor="middle">2005</text>
<text x="438.65" y="267" font-size="16" text-anchor="middle">2010</text>
<text x="537.15" y="267" font-size="16" text-anchor="middle">2015</text>
<text x="635.65" y="267" font-size="16" text-anchor="middle">2020</text>
<text x="40.4" y="35.0" font-size="15.7">kgCO<tspan font-size="10.5" dx="0.6" dy="3.5">2</tspan><tspan dy="-3.5">e</tspan></text>
<text x="112.1" y="289.6" font-size="16">Cereals</text>
<text x="203.3" y="289.6" font-size="16">Vegetables</text>
<text x="314.1" y="289.6" font-size="16">Vegetable oil</text>
<text x="417.5" y="289.6" font-size="16">Fruits</text>
<text x="497.4" y="289.6" font-size="16">Sugar</text>
<text x="584.9" y="289.6" font-size="16">Eggs</text>
<text x="112.1" y="309.6" font-size="16">Aquatic</text>
<text x="203.3" y="309.6" font-size="16">Milk</text>
<text x="314.1" y="309.6" font-size="16">Pork</text>
<text x="417.5" y="309.6" font-size="16">Beef</text>
<text x="497.4" y="309.6" font-size="16">Mutton</text>
<text x="584.9" y="309.6" font-size="16">Poultry</text>
<rect x="71.9" y="276.1" width="34.5" height="16.3" fill="url(#gcer)"/>
<rect x="163.6" y="276.1" width="34.5" height="16.3" fill="url(#gveg)"/>
<rect x="273.9" y="276.1" width="34.5" height="16.3" fill="url(#gvo)"/>
<rect x="377.8" y="276.1" width="34.5" height="16.3" fill="url(#gfr)"/>
<rect x="457.9" y="276.1" width="34.5" height="16.3" fill="url(#gsu)"/>
<rect x="545.9" y="276.1" width="34.5" height="16.3" fill="url(#gegg)"/>
<rect x="71.9" y="296.1" width="34.5" height="15.8" fill="url(#gaq)"/>
<rect x="163.6" y="296.1" width="34.5" height="15.8" fill="url(#gmilk)"/>
<rect x="273.9" y="296.1" width="34.5" height="15.8" fill="url(#gpork)"/>
<rect x="377.8" y="296.1" width="34.5" height="15.8" fill="url(#gbeef)"/>
<rect x="457.9" y="296.1" width="34.5" height="15.8" fill="url(#gmut)"/>
<rect x="545.9" y="296.1" width="34.5" height="15.8" fill="url(#gpou)"/>
</svg></body></html>
